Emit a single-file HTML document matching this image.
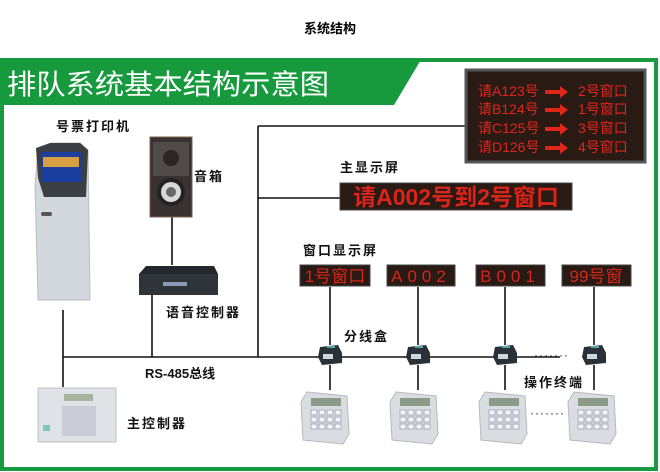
<!DOCTYPE html>
<html><head><meta charset="utf-8"><style>
html,body{margin:0;padding:0;background:#fff;}
svg{display:block;}
text{font-family:"Liberation Sans","Noto Sans CJK SC",sans-serif;}
</style></head><body>
<svg width="660" height="472" viewBox="0 0 660 472" xmlns="http://www.w3.org/2000/svg">
<defs>
<g id="jb"><polygon points="-10,-8 8,-10 12,-2 12,8 -8,10 -12,2" fill="#2a3138"/><rect x="-7" y="-1" width="10" height="5" fill="#cfd6dc"/><rect x="-3" y="-9" width="8" height="2" fill="#5aa"/></g>
<g id="kp"><polygon points="4,0 44,4 46,42 40,52 0,48 -2,10" fill="#d9dde2" stroke="#b5bac0"/><rect x="8" y="6" width="30" height="8" fill="#8c9a88"/><g fill="#f4f5f7" stroke="#aab"><rect x="8" y="18" width="6" height="5"/><rect x="16" y="18" width="6" height="5"/><rect x="24" y="18" width="6" height="5"/><rect x="32" y="18" width="6" height="5"/><rect x="8" y="25" width="6" height="5"/><rect x="16" y="25" width="6" height="5"/><rect x="24" y="25" width="6" height="5"/><rect x="32" y="25" width="6" height="5"/><rect x="8" y="32" width="6" height="5"/><rect x="16" y="32" width="6" height="5"/><rect x="24" y="32" width="6" height="5"/><rect x="32" y="32" width="6" height="5"/></g></g>
</defs>
<text x="330" y="33" font-size="13" font-weight="bold" text-anchor="middle" fill="#000">系统结构</text>
<rect x="2" y="60" width="654" height="409" fill="#fff" stroke="#1a9a40" stroke-width="4"/>
<polygon points="0,58 422,58 394,105 0,105" fill="#179a3e"/>
<text x="7" y="94" font-size="28" fill="#fff" textLength="322" lengthAdjust="spacingAndGlyphs">排队系统基本结构示意图</text>
<g stroke="#111" stroke-width="1.6" fill="none">
<path d="M258 126 H466 M258 126 V357 M258 198 H340 M63 357 H560 M63 310 V387 M152 293 V357 M172 217 V265"/>
<path d="M330 287 V345 M418 287 V345 M505 287 V345 M594 287 V345 M330 365 V390 M418 365 V390 M505 365 V390 M594 365 V390"/>
</g>
<g fill="#222"><text x="534" y="359" font-size="12" letter-spacing="1">·······</text><text x="530" y="417" font-size="12" letter-spacing="1">·······</text></g>
<rect x="466" y="70" width="179" height="92" fill="#2a1a14" stroke="#555" stroke-width="3"/>
<g font-family="Liberation Serif,Noto Serif CJK SC,serif" font-size="14" fill="#e0251b">
<text x="478" y="96">请A123号</text><text x="578" y="96">2号窗口</text>
<text x="478" y="114">请B124号</text><text x="578" y="114">1号窗口</text>
<text x="478" y="133">请C125号</text><text x="578" y="133">3号窗口</text>
<text x="478" y="152">请D126号</text><text x="578" y="152">4号窗口</text>
</g>
<g fill="#e0251b"><polygon points="545,90 560,90 560,86 568,92 560,98 560,94 545,94"/><polygon points="545,108 560,108 560,104 568,110 560,116 560,112 545,112"/><polygon points="545,127 560,127 560,123 568,129 560,135 560,131 545,131"/><polygon points="545,146 560,146 560,142 568,148 560,154 560,150 545,150"/></g>
<rect x="340" y="183" width="232" height="27" fill="#2a1a14" stroke="#444"/>
<text x="456" y="205" font-size="23" font-weight="bold" fill="#d8241a" text-anchor="middle">请A002号到2号窗口</text>
<g fill="#2a1a14" stroke="#444"><rect x="300" y="265" width="70" height="21"/><rect x="387" y="265" width="68" height="21"/><rect x="476" y="265" width="69" height="21"/><rect x="562" y="265" width="69" height="21"/></g>
<g font-size="17" fill="#d8241a" font-family="Liberation Serif,Noto Serif CJK SC,serif" text-anchor="middle">
<text x="335" y="282">1号窗口</text><text x="421" y="282" letter-spacing="5">A002</text><text x="510" y="282" letter-spacing="5">B001</text><text x="596" y="282">99号窗</text></g>
<g font-size="13" font-weight="bold" fill="#111" letter-spacing="2">
<text x="56" y="131">号票打印机</text><text x="194" y="181">音箱</text><text x="340" y="172">主显示屏</text>
<text x="303" y="255">窗口显示屏</text><text x="166" y="317">语音控制器</text><text x="344" y="341">分线盒</text>
<text x="145" y="378" letter-spacing="0">RS-485总线</text><text x="524" y="387">操作终端</text><text x="127" y="428">主控制器</text>
</g>
<polygon points="38,150 52,143 80,143 88,150 90,300 38,300 35,185" fill="#d3d8de" stroke="#b9bec5"/>
<polygon points="36,148 50,143 80,143 88,150 86,197 44,197 38,178" fill="#3c3f44"/>
<rect x="41" y="152" width="40" height="30" fill="#1b3f9e"/><rect x="43" y="157" width="36" height="10" fill="#d8a040"/>
<rect x="41" y="212" width="11" height="4" fill="#555" rx="2"/>
<rect x="150" y="137" width="42" height="80" fill="#3a3230" stroke="#7a6250"/>
<rect x="153" y="142" width="36" height="34" fill="#504a48"/><circle cx="171" cy="158" r="8" fill="#2a2624"/>
<circle cx="171" cy="192" r="14" fill="#222"/><circle cx="171" cy="192" r="10" fill="#d8d8d8"/><circle cx="171" cy="192" r="5" fill="#666"/>
<polygon points="146,266 214,266 218,274 218,295 139,295 139,274" fill="#24282c"/><rect x="139" y="274" width="79" height="21" fill="#2f3439"/><rect x="163" y="282" width="24" height="4" fill="#8a9ab8"/>
<rect x="38" y="388" width="78" height="54" fill="#dfe3e8" stroke="#bcc2c8"/><rect x="64" y="394" width="29" height="7" fill="#a9b3a0"/>
<g fill="#c9ccd4"><rect x="62" y="406" width="34" height="30"/></g><rect x="43" y="425" width="7" height="6" fill="#7cb"/>
<use href="#jb" x="330" y="355"/><use href="#jb" x="418" y="355"/><use href="#jb" x="505" y="355"/><use href="#jb" x="594" y="355"/>
<use href="#kp" x="303" y="392"/><use href="#kp" x="392" y="392"/><use href="#kp" x="481" y="392"/><use href="#kp" x="570" y="392"/>
</svg>
</body></html>
